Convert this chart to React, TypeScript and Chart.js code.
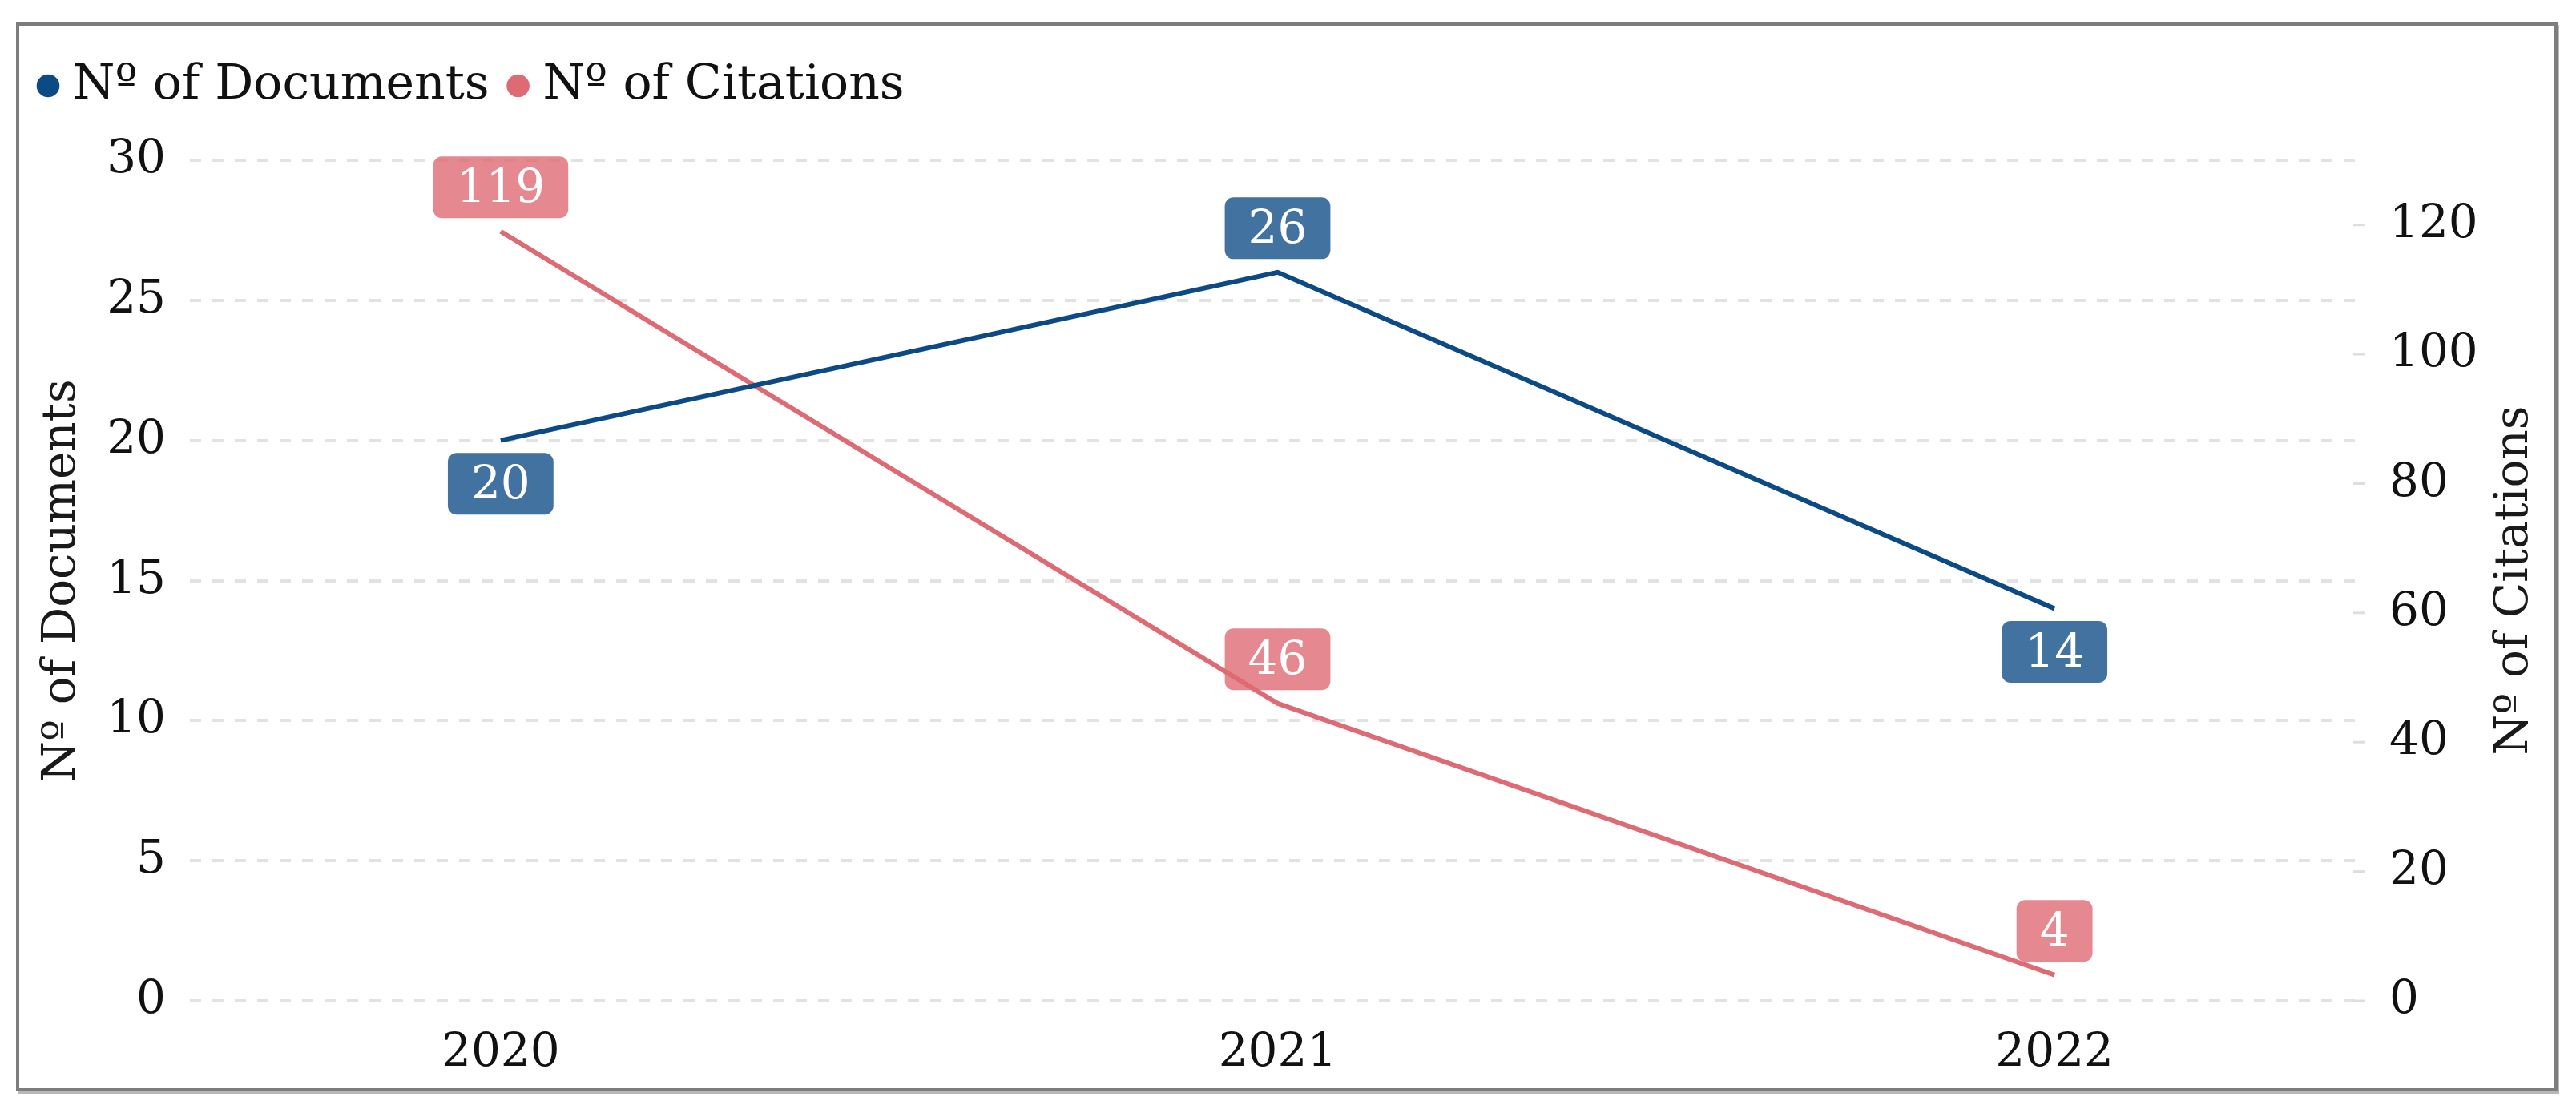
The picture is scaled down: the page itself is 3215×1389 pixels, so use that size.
import React, { useEffect, useRef } from 'react';
import { Chart, registerables } from 'chart.js';

Chart.register(...registerables);

const FONT = "'DejaVu Serif', Georgia, serif";

const years = ['2020', '2021', '2022'];
const documents = [20, 26, 14];
const citations = [119, 46, 4];
const documentsLabelSide = ['below', 'above', 'below'];
const citationsLabelSide = ['above', 'above', 'above'];
const seriesNames = ['Nº of Documents', 'Nº of Citations'];
const axisTitles = ['Nº of Documents', 'Nº of Citations'];
const docColor = '#0b4a85';
const docBox = 'rgba(11,74,133,0.78)';
const citColor = '#de6a73';
const citBox = 'rgba(222,106,115,0.8)';

const valueBoxes = {
  id: 'valueBoxes',
  beforeDatasetsDraw(chart: any) {
    const ctx = chart.ctx;
    const s = chart.scales.y1;
    const right = chart.chartArea.right;
    ctx.save();
    ctx.strokeStyle = '#dedede';
    ctx.lineWidth = 3;
    s.ticks.forEach((t: any) => {
      const py = s.getPixelForValue(t.value);
      ctx.beginPath();
      ctx.moveTo(right - 15, py);
      ctx.lineTo(right, py);
      ctx.stroke();
    });
    ctx.restore();

    chart.data.datasets.forEach((ds: any, di: number) => {
      const meta = chart.getDatasetMeta(di);
      const sides = di === 0 ? documentsLabelSide : citationsLabelSide;
      const fill = di === 0 ? docBox : citBox;
      meta.data.forEach((el: any, i: number) => {
        const text = String(ds.data[i].y);
        ctx.save();
        ctx.font = `58px ${FONT}`;
        const tw = ctx.measureText(text).width;
        const w = tw + 58;
        const h = 77;
        const cx = el.x;
        const cy = sides[i] === 'above' ? el.y - 55 : el.y + 54;
        ctx.fillStyle = fill;
        ctx.beginPath();
        ctx.roundRect(cx - w / 2, cy - h / 2, w, h, 11);
        ctx.fill();
        ctx.fillStyle = '#ffffff';
        ctx.textAlign = 'center';
        ctx.textBaseline = 'middle';
        ctx.fillText(text, cx, cy + 3);
        ctx.restore();
      });
    });
  },
  afterDraw(chart: any) {
    const ctx = chart.ctx;
    const s = chart.scales.y1;
    const ca = chart.chartArea;
    ctx.save();
    ctx.font = `58px ${FONT}`;
    ctx.fillStyle = '#1a1a1a';
    ctx.textAlign = 'center';
    ctx.textBaseline = 'middle';
    ctx.translate(s.right - 49, (ca.top + ca.bottom) / 2);
    ctx.rotate(-Math.PI / 2);
    ctx.fillText(axisTitles[1], 0, 0);
    ctx.restore();
  },
};

export default function App() {
  const ref = useRef<HTMLCanvasElement | null>(null);

  useEffect(() => {
    if (!ref.current) return;
    const chart = new Chart(ref.current, {
      type: 'line',
      data: {
        datasets: [
          {
            label: seriesNames[0],
            data: documents.map((v, i) => ({ x: i, y: v })),
            borderColor: docColor,
            backgroundColor: docColor,
            borderWidth: 6,
            pointRadius: 0,
            tension: 0,
            yAxisID: 'y',
            xAxisID: 'x',
          },
          {
            label: seriesNames[1],
            data: citations.map((v, i) => ({ x: i, y: v })),
            borderColor: citColor,
            backgroundColor: citColor,
            borderWidth: 6,
            pointRadius: 0,
            tension: 0,
            yAxisID: 'y1',
            xAxisID: 'x',
          },
        ],
      },
      options: {
        animation: false,
        responsive: true,
        maintainAspectRatio: false,
        devicePixelRatio: 1,
        layout: { padding: { top: 10, left: 0, right: 0, bottom: 0 } },
        plugins: {
          legend: {
            position: 'top',
            align: 'start',
            labels: {
              usePointStyle: true,
              pointStyle: 'circle',
              boxWidth: 2,
              boxHeight: 16,
              padding: 35,
              color: '#111',
              font: { family: FONT, size: 60 },
            },
          },
          tooltip: { enabled: false },
        },
        scales: {
          x: {
            type: 'linear',
            position: 'bottom',
            min: -0.4,
            max: 2.4,
            grid: { display: false },
            border: { display: false },
            ticks: {
              stepSize: 1,
              includeBounds: false,
              autoSkip: false,
              maxRotation: 0,
              padding: 23,
              color: '#111',
              font: { family: FONT, size: 58 },
              callback: (v: any) => years[v] ?? '',
            },
            afterFit: (s: any) => { s.height = 109; },
          },
          xTop: {
            type: 'linear',
            position: 'top',
            display: true,
            grid: { display: false },
            border: { display: false },
            ticks: { display: false },
            afterFit: (s: any) => { s.height = 53; },
          },
          y: {
            position: 'left',
            min: 0,
            max: 30,
            ticks: {
              stepSize: 5,
              padding: 30,
              color: '#111',
              font: { family: FONT, size: 58 },
            },
            grid: { color: '#e2e2e2', lineWidth: 4, drawTicks: false },
            border: { display: false, dash: [14, 14] },
            title: {
              display: true,
              text: axisTitles[0],
              color: '#1a1a1a',
              font: { family: FONT, size: 58 },
              padding: { top: 19, bottom: 0 },
            },
            afterFit: (s: any) => { s.width = 213; },
          },
          y1: {
            position: 'right',
            min: 0,
            max: 130,
            ticks: {
              stepSize: 20,
              includeBounds: false,
              padding: 30,
              color: '#111',
              font: { family: FONT, size: 58 },
            },
            grid: { drawOnChartArea: false, drawTicks: false },
            border: { display: false },
            afterFit: (s: any) => { s.width = 236; },
          },
        },
      } as any,
      plugins: [valueBoxes],
    });
    return () => chart.destroy();
  }, []);

  return (
    <div
      style={{
        position: 'absolute',
        left: 20,
        top: 28,
        width: 3172,
        height: 1334,
        boxSizing: 'border-box',
        border: '4px solid #7d7d7d',
        boxShadow: '2px 3px 0 #b8b8b8',
        background: '#fff',
      }}
    >
      <div style={{ position: 'relative', width: '100%', height: '100%' }}>
        <canvas ref={ref} />
      </div>
    </div>
  );
}
